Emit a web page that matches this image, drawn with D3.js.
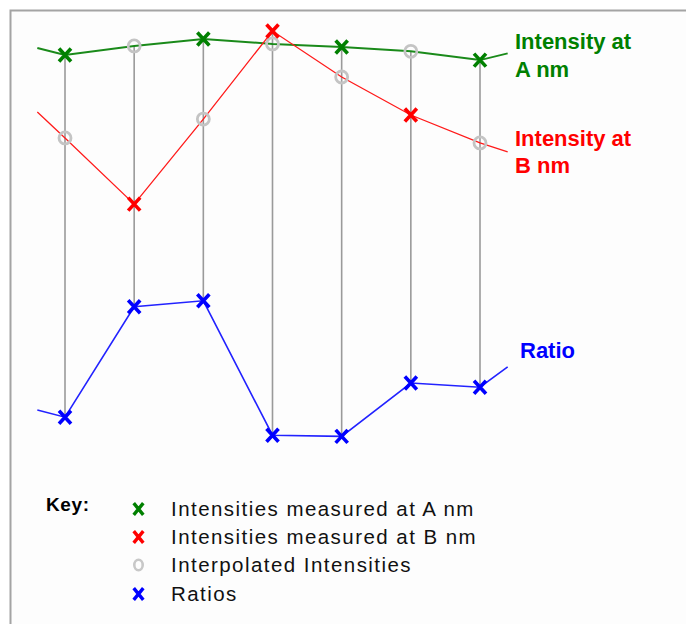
<!DOCTYPE html>
<html>
<head>
<meta charset="utf-8">
<script src="https://cdn.jsdelivr.net/npm/d3@7"></script>
<style>
  html, body { margin: 0; padding: 0; background: #ffffff; }
  svg { display: block; }
</style>
</head>
<body>
<svg id="chart" width="686" height="624"></svg>
<script>
// Sample positions (index along the run); the first and last entries are the
// partial segments that trail off beyond the first and last sample.
const samplePos = [-0.4, 0, 1, 2, 3, 4, 5, 6, 6.4];

// Intensity at wavelength A (measured on even samples, interpolated on odd)
const intensityA = [89.8, 86.7, 90.7, 93.8, 91.6, 90.2, 88.3, 84.4, 87.4];
// Intensity at wavelength B (measured on odd samples, interpolated on even)
const intensityB = [61.3, 49.8, 20.4, 58.2, 97.3, 76.9, 60.0, 47.6, 43.6];
// Ratio of the two intensities at each sample
const ratios = [0.75, 0.69, 1.61, 1.66, 0.54, 0.53, 0.975, 0.94, 1.11];

// Which wavelength was actually measured at each sample (null for the stubs)
const measuredAt = [null, "A", "B", "A", "B", "A", "B", "A", null];

const seriesLabels = [
  { lines: ["Intensity at", "A nm"], color: "#008000" },
  { lines: ["Intensity at", "B nm"], color: "#ff0000" },
  { lines: ["Ratio"], color: "#0000ff" }
];

const keyTitle = "Key:";
const keyItems = [
  { text: "Intensities measured at A nm", marker: "x", color: "#008000" },
  { text: "Intensities measured at B nm", marker: "x", color: "#ff0000" },
  { text: "Interpolated Intensities", marker: "o", color: "#c8c8c8" },
  { text: "Ratios", marker: "x", color: "#0000ff" }
];

const svg = d3.select("#chart");

// Frame: light panel with a grey rule along the top and left
svg.append("rect").attr("x", 10).attr("y", 11).attr("width", 676).attr("height", 613)
  .attr("fill", "#fdfdfd");
svg.append("path").attr("d", "M10.5,624 V10.5 H686")
  .attr("fill", "none").attr("stroke", "#a4a4a4").attr("stroke-width", 2);

const x = d3.scaleLinear().domain([0, 6]).range([65, 480]);
const yI = d3.scaleLinear().domain([0, 100]).range([250, 25]);
const yR = d3.scaleLinear().domain([0, 2]).range([500, 260]);

const idx = d3.range(samplePos.length);
const samples = idx.filter(i => measuredAt[i] !== null);

// Drop lines from the top intensity to the ratio at each sample
svg.append("g").selectAll("line").data(samples).join("line")
  .attr("x1", i => x(samplePos[i])).attr("x2", i => x(samplePos[i]))
  .attr("y1", i => Math.min(yI(intensityA[i]), yI(intensityB[i])))
  .attr("y2", i => yR(ratios[i]))
  .attr("stroke", "#9a9a9a").attr("stroke-width", 1.6);

const lineI = (vals) => d3.line().x(i => x(samplePos[i])).y(i => yI(vals[i]))(idx);
const lineR = d3.line().x(i => x(samplePos[i])).y(i => yR(ratios[i]))(idx);

svg.append("path").attr("d", lineI(intensityA)).attr("fill", "none")
  .attr("stroke", "#1a8a1a").attr("stroke-width", 2);
svg.append("path").attr("d", lineI(intensityB)).attr("fill", "none")
  .attr("stroke", "#ff1a1a").attr("stroke-width", 1.3);
svg.append("path").attr("d", lineR).attr("fill", "none")
  .attr("stroke", "#2222ff").attr("stroke-width", 1.6);

const crossPath = (cx, cy, hx, hy) =>
  `M${cx - hx},${cy - hy}L${cx + hx},${cy + hy}M${cx - hx},${cy + hy}L${cx + hx},${cy - hy}`;

function drawCross(g, cx, cy, color) {
  g.append("path").attr("d", crossPath(cx, cy, 6, 6.5))
    .attr("stroke", color).attr("stroke-width", 3.6).attr("fill", "none");
}
function drawRing(g, cx, cy) {
  g.append("circle").attr("cx", cx).attr("cy", cy).attr("r", 6)
    .attr("fill", "none").attr("stroke", "#c4c4c4").attr("stroke-width", 2.8);
}

const marks = svg.append("g");
// Interpolated intensities first, measured crosses on top
samples.forEach(i => {
  const cx = x(samplePos[i]);
  if (measuredAt[i] === "A") drawRing(marks, cx, yI(intensityB[i]));
  else drawRing(marks, cx, yI(intensityA[i]));
});
samples.forEach(i => {
  const cx = x(samplePos[i]);
  if (measuredAt[i] === "A") drawCross(marks, cx, yI(intensityA[i]), "#008000");
  else drawCross(marks, cx, yI(intensityB[i]), "#ff0000");
  drawCross(marks, cx, yR(ratios[i]), "#0000ff");
});

// Series labels to the right of the lines
const labelPos = [[515, 49, 28], [515, 146, 27], [520, 358, 0]];
seriesLabels.forEach((lab, k) => {
  const [lx, ly, step] = labelPos[k];
  const t = svg.append("text").attr("x", lx).attr("y", ly)
    .attr("fill", lab.color)
    .style("font-family", "'Liberation Sans', Arial, sans-serif")
    .style("font-weight", "bold").style("font-size", "22px");
  lab.lines.forEach((s, j) => {
    t.append("tspan").attr("x", lx).attr("y", ly + j * step).text(s);
  });
});

// Key
const key = svg.append("g");
key.append("text").attr("x", 46).attr("y", 511).text(keyTitle)
  .attr("fill", "#000")
  .style("font-family", "'Liberation Sans', Arial, sans-serif")
  .style("font-weight", "bold").style("font-size", "19px")
  .style("letter-spacing", "0.6px");
const keyY = [516, 544, 572, 601];
keyItems.forEach((it, k) => {
  const by = keyY[k];
  if (it.marker === "x") {
    key.append("path").attr("d", crossPath(138.5, by - 7, 4.8, 5.8))
      .attr("stroke", it.color).attr("stroke-width", 3.4).attr("fill", "none");
  } else {
    key.append("ellipse").attr("cx", 138.5).attr("cy", by - 7).attr("rx", 4.2).attr("ry", 5.3)
      .attr("fill", "none").attr("stroke", it.color).attr("stroke-width", 2.6);
  }
  key.append("text").attr("x", 171).attr("y", by).text(it.text)
    .attr("fill", "#111")
    .style("font-family", "'Liberation Sans', Arial, sans-serif")
    .style("font-size", "20.5px").style("letter-spacing", "1.45px");
});
</script>
</body>
</html>
